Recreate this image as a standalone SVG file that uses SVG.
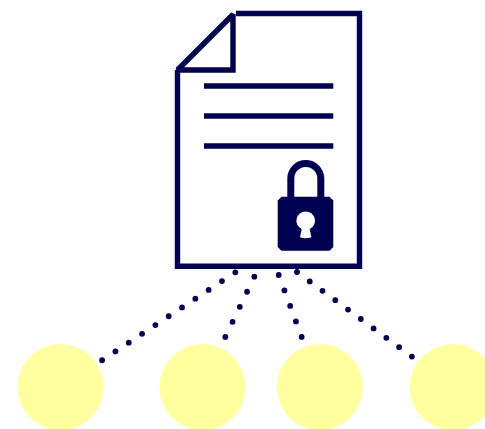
<svg xmlns="http://www.w3.org/2000/svg" width="485" height="429" viewBox="0 0 485 429">
  <style>
    .ink{fill:none;stroke:#000050;stroke-width:5.4}
    .fold{stroke-miterlimit:2}
    .dots{fill:none;stroke:#000050;stroke-width:5.8;stroke-linecap:round}
    .peer{fill:#ffff9f}
  </style>
  <rect width="485" height="429" fill="#ffffff"/>
  <g id="connectors">
    <line class="dots" x1="235.3" y1="272.3" x2="102" y2="360.3" stroke-dasharray="0 15.96"/>
    <line class="dots" x1="254.3" y1="276.7" x2="225.3" y2="337" stroke-dasharray="0 16.7"/>
    <line class="dots" x1="278.7" y1="275" x2="301.7" y2="337" stroke-dasharray="0 16.5"/>
    <line class="dots" x1="297" y1="272" x2="412" y2="356.7" stroke-dasharray="0 15.85"/>
  </g>
  <g id="document">
    <path class="ink" d="M236 13.5H359.5V266.3H177.5V70"/>
    <path class="ink fold" d="M233 70H177.5L233 14.5Z"/>
    <path class="ink" d="M204 86H333.3M204 116H333.3M204 146H333.3"/>
  </g>
  <g id="lock">
    <path d="M290.8 198V178.5a15 15 0 0 1 30 0V198" fill="none" stroke="#000050" stroke-width="7"/>
    <path fill="#000050" fill-rule="evenodd" d="M281.5 196.7H329.5L333.3 200.5V247L329.5 250.7H281.5L277.7 247V200.5ZM305.7 211.4a9.3 9.3 0 0 0 -4 17.7L300 237.3Q305.7 239 311.4 237.3L309.7 229.1a9.3 9.3 0 0 0 -4 -17.7Z"/>
  </g>
  <g id="peer-1"><circle class="peer" cx="60.5" cy="387" r="43"/></g>
  <g id="peer-2"><circle class="peer" cx="202.5" cy="387" r="43"/></g>
  <g id="peer-3"><circle class="peer" cx="319.8" cy="387" r="43"/></g>
  <g id="peer-4"><circle class="peer" cx="452.8" cy="387" r="43"/></g>
</svg>
